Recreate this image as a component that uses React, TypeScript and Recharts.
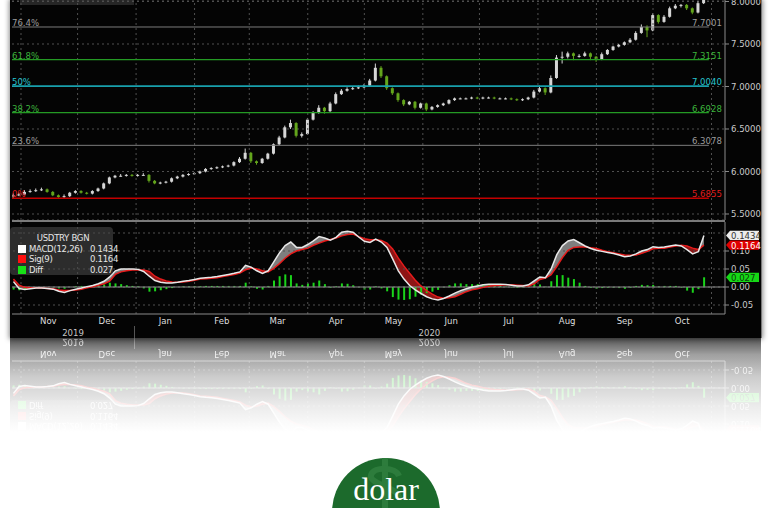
import React from 'react';
import { ComposedChart, Bar, Line, Area, XAxis, YAxis, CartesianGrid, ReferenceLine } from 'recharts';

const FONT = '"Liberation Sans Narrow","DejaVu Sans Condensed","Arial Narrow",Arial,sans-serif';

// ---- data (day 0 = 1 Nov 2019) ----
const days = [-4,-1,2,5,8,11,14,17,20,23,26,29,32,35,38,41,44,47,50,53,56,59,62,65,68,71,74,77,80,83,86,89,92,95,98,101,104,107,110,113,116,119,122,125,128,131,134,137,140,143,146,149,152,155,158,161,164,167,170,173,176,179,182,185,188,191,194,197,200,203,206,209,212,215,218,221,224,227,230,233,236,239,242,245,248,251,254,257,260,263,266,269,272,275,278,281,284,287,290,293,296,299,302,305,308,311,314,317,320,323,326,329,332,335,338,341,344,347,350,353,356,359,362];

const opens = [5.71,5.72,5.73,5.76,5.77,5.78,5.79,5.76,5.72,5.70,
5.71,5.75,5.77,5.75,5.74,5.77,5.80,5.86,5.93,5.95,
5.95,5.96,5.95,5.96,5.96,5.89,5.86,5.87,5.88,5.92,
5.94,5.96,5.97,5.98,6.00,6.03,6.04,6.05,6.06,6.07,
6.11,6.15,6.22,6.12,6.10,6.15,6.21,6.32,6.40,6.52,
6.57,6.42,6.44,6.61,6.69,6.75,6.71,6.80,6.91,6.95,
6.97,6.98,6.99,7.01,7.07,7.22,7.12,6.98,6.92,6.84,
6.79,6.82,6.75,6.80,6.73,6.76,6.78,6.80,6.84,6.86,
6.86,6.86,6.87,6.86,6.87,6.87,6.86,6.86,6.86,6.85,
6.84,6.85,6.87,6.94,6.98,6.93,7.10,7.34,7.35,7.39,
7.36,7.36,7.39,7.35,7.32,7.38,7.43,7.47,7.49,7.52,
7.55,7.63,7.70,7.66,7.84,7.76,7.82,7.92,7.95,7.96,
7.92,7.87,7.98];

const highs = [5.74,5.75,5.78,5.79,5.80,5.81,5.80,5.77,5.73,5.73,
5.76,5.78,5.78,5.76,5.78,5.81,5.87,5.94,5.96,5.97,
5.97,5.97,5.97,5.98,5.97,5.90,5.88,5.89,5.93,5.95,
5.97,5.98,5.99,6.01,6.04,6.05,6.06,6.07,6.08,6.12,
6.17,6.27,6.23,6.13,6.16,6.22,6.33,6.42,6.54,6.61,
6.58,6.46,6.63,6.71,6.78,6.76,6.82,6.93,6.97,6.99,
7.00,7.01,7.03,7.09,7.27,7.24,7.13,6.99,6.93,6.85,
6.83,6.83,6.81,6.81,6.77,6.79,6.81,6.85,6.87,6.87,
6.87,6.88,6.88,6.88,6.88,6.88,6.87,6.87,6.87,6.86,
6.86,6.88,6.96,7.01,6.99,7.13,7.37,7.41,7.41,7.40,
7.38,7.41,7.40,7.36,7.40,7.44,7.48,7.50,7.53,7.57,
7.65,7.73,7.72,7.86,7.85,7.84,7.94,7.97,7.97,7.97,
7.93,8.00,8.10];

const lows = [5.69,5.71,5.72,5.75,5.76,5.77,5.75,5.71,5.69,5.69,
5.70,5.74,5.74,5.73,5.73,5.76,5.79,5.85,5.92,5.94,
5.94,5.94,5.94,5.95,5.87,5.85,5.85,5.86,5.87,5.91,
5.93,5.95,5.96,5.97,5.99,6.02,6.03,6.04,6.05,6.06,
6.10,6.14,6.10,6.08,6.09,6.14,6.20,6.31,6.39,6.50,
6.40,6.40,6.43,6.60,6.68,6.68,6.70,6.79,6.90,6.94,
6.96,6.97,6.98,7.00,7.06,7.10,6.96,6.90,6.82,6.77,
6.78,6.73,6.74,6.71,6.72,6.75,6.77,6.79,6.83,6.85,
6.85,6.85,6.85,6.85,6.86,6.85,6.85,6.85,6.84,6.83,
6.83,6.84,6.86,6.93,6.90,6.92,7.09,7.27,7.33,7.31,
7.34,7.35,7.31,7.29,7.31,7.37,7.42,7.46,7.48,7.51,
7.54,7.62,7.58,7.65,7.74,7.75,7.81,7.91,7.93,7.90,
7.85,7.86,7.97];

const closes = [5.72,5.73,5.76,5.77,5.78,5.79,5.76,5.72,5.70,5.71,
5.75,5.77,5.75,5.74,5.77,5.80,5.86,5.93,5.95,5.95,
5.96,5.95,5.96,5.96,5.89,5.86,5.87,5.88,5.92,5.94,
5.96,5.97,5.98,6.00,6.03,6.04,6.05,6.06,6.07,6.11,
6.15,6.22,6.12,6.10,6.15,6.21,6.32,6.40,6.52,6.57,
6.42,6.44,6.61,6.69,6.75,6.71,6.80,6.91,6.95,6.97,
6.98,6.99,7.01,7.07,7.22,7.12,6.98,6.92,6.84,6.79,
6.82,6.75,6.80,6.73,6.76,6.78,6.80,6.84,6.86,6.86,
6.86,6.87,6.86,6.87,6.87,6.86,6.86,6.86,6.85,6.84,
6.85,6.87,6.94,6.98,6.93,7.10,7.34,7.35,7.39,7.36,
7.36,7.39,7.35,7.32,7.38,7.43,7.47,7.49,7.52,7.55,
7.63,7.70,7.66,7.84,7.76,7.82,7.92,7.95,7.96,7.92,
7.87,7.98,8.06];

const macdVals = [0.015,-0.004,-0.007,-0.005,-0.003,-0.003,-0.004,-0.006,-0.012,-0.015,
-0.010,-0.006,-0.003,0.001,0.004,0.009,0.016,0.028,0.045,0.050,
0.050,0.050,0.049,0.043,0.030,0.018,0.013,0.011,0.011,0.013,
0.016,0.018,0.021,0.024,0.026,0.027,0.029,0.032,0.035,0.038,
0.042,0.060,0.055,0.045,0.038,0.045,0.070,0.095,0.115,0.125,
0.110,0.110,0.118,0.128,0.140,0.136,0.130,0.138,0.152,0.155,
0.152,0.139,0.127,0.124,0.133,0.125,0.110,0.078,0.045,0.022,
0.004,-0.008,-0.018,-0.027,-0.033,-0.036,-0.032,-0.025,-0.017,-0.010,
-0.005,0.000,0.003,0.006,0.008,0.008,0.008,0.007,0.005,0.003,
0.003,0.006,0.017,0.028,0.026,0.050,0.090,0.115,0.128,0.132,
0.123,0.114,0.107,0.102,0.099,0.096,0.093,0.089,0.084,0.086,
0.092,0.100,0.104,0.112,0.110,0.111,0.114,0.117,0.114,0.104,
0.092,0.098,0.1434];

const sigVals = [0.022,0.005,-0.001,-0.002,-0.003,-0.003,-0.004,-0.005,-0.008,-0.010,
-0.010,-0.008,-0.006,-0.002,0.001,0.005,0.009,0.016,0.035,0.042,
0.045,0.047,0.047,0.047,0.043,0.030,0.022,0.017,0.014,0.013,
0.014,0.016,0.019,0.022,0.023,0.024,0.026,0.029,0.032,0.035,
0.039,0.048,0.053,0.050,0.045,0.042,0.052,0.065,0.080,0.092,
0.100,0.104,0.108,0.116,0.122,0.128,0.132,0.136,0.142,0.146,
0.147,0.140,0.134,0.131,0.131,0.129,0.122,0.106,0.080,0.058,
0.038,0.019,0.003,-0.010,-0.020,-0.028,-0.031,-0.030,-0.027,-0.020,
-0.013,-0.008,-0.005,-0.001,0.002,0.004,0.005,0.006,0.006,0.005,
0.004,0.003,0.009,0.021,0.025,0.034,0.057,0.082,0.102,0.110,
0.111,0.111,0.109,0.107,0.102,0.098,0.095,0.092,0.089,0.088,
0.089,0.094,0.099,0.106,0.108,0.108,0.111,0.114,0.116,0.114,
0.108,0.104,0.1164];

const monthStarts = [0,30,61,92,121,152,182,213,243,274,305,335,366];
const monthMids = [14.5,45.5,76.5,106.5,136,167,197.5,228,258.5,289.5,320,350.5];
const monthNames = ['Nov','Dec','Jan','Feb','Mar','Apr','May','Jun','Jul','Aug','Sep','Oct'];
const yearMids = [27.6,216.5];
const yearNames = ['2019','2020'];
const priceTicks = [5.5,6.0,6.5,7.0,7.5,8.0];
const macdGridTicks = [-0.05,0,0.05,0.1,0.15];
const macdLabelTicks = [-0.05,0,0.05,0.1];
const fibPcts = ['0%','23.6%','38.2%','50%','61.8%','76.4%'];
const fibValues = [5.6855,6.3078,6.6928,7.0040,7.3151,7.7001];
const legendTitle = 'USDTRY BGN';
const legendNames = ['MACD(12,26)','Sig(9)','Diff'];

// ---- layout constants ----
const X_DOMAIN: [number, number] = [-4.77, 373.16];
const PRICE_DOMAIN: [number, number] = [5.4294, 8.0176];
const MACD_DOMAIN: [number, number] = [-0.075, 0.1806];
const FIB_END_DAY = 364.6;

const fibStyle = [
  { line: '#c40000', text: '#e01c1c', w: 1.6 },
  { line: '#7c7c7c', text: '#9c9c9c', w: 1 },
  { line: '#249a24', text: '#3cb43c', w: 1.2 },
  { line: '#18a0ad', text: '#26c4d0', w: 1.8 },
  { line: '#249a24', text: '#3cb43c', w: 1.2 },
  { line: '#7c7c7c', text: '#9c9c9c', w: 1 },
];

const priceRows = days.map((d, i) => ({ d, o: opens[i], h: highs[i], l: lows[i], c: closes[i], range: [lows[i], highs[i]] }));
const macdRows = days.map((d, i) => {
  const m = macdVals[i];
  const s = sigVals[i];
  return { d, macd: m, sig: s, diff: m - s, up: [s, Math.max(m, s)], dn: [Math.min(m, s), s] };
});
const lastMacd = macdVals[macdVals.length - 1];
const lastSig = sigVals[sigVals.length - 1];
const lastDiff = lastMacd - lastSig;

const Candle = (props: any) => {
  let { x, y, width, height, payload } = props;
  if (x == null || payload == null) return null;
  if (height < 0) { y += height; height = -height; }
  const { o, h, l, c } = payload;
  const span = h - l || 1;
  const py = (v: number) => y + ((h - v) / span) * height;
  const cx = x + width / 2;
  const top = py(Math.max(o, c));
  const bot = py(Math.min(o, c));
  const color = c < o ? '#63a51c' : '#d6d6d6';
  return (
    <g>
      <line x1={cx} x2={cx} y1={y} y2={y + height} stroke={color} strokeWidth={1} />
      <rect x={cx - 1.5} y={top} width={3} height={Math.max(1, bot - top)} fill={color} />
    </g>
  );
};

const fibLabel = (p: any, i: number) => {
  const vb = p && p.viewBox;
  if (!vb) return null;
  const st = fibStyle[i];
  return (
    <g>
      <text x={vb.x} y={vb.y - 1} fill={st.text} fontSize={9.5} fontFamily={FONT}>{fibPcts[i]}</text>
      <text x={vb.x + vb.width + 13} y={vb.y - 1} textAnchor="end" fill={st.text} fontSize={9.5} fontFamily={FONT}>{fibValues[i].toFixed(4)}</text>
    </g>
  );
};

const valueBox = (p: any, text: string, bg: string, fg: string) => {
  const vb = p && p.viewBox;
  if (!vb) return null;
  const x = vb.x + vb.width;
  const y = vb.y;
  return (
    <g>
      <path d={`M${x + 1},${y} L${x + 5},${y - 4.6} L${x + 34},${y - 4.6} L${x + 34},${y + 4.6} L${x + 5},${y + 4.6} Z`} fill={bg} />
      <text x={x + 6} y={y + 3.4} fill={fg} fontSize={9.5} fontFamily={FONT}>{text}</text>
    </g>
  );
};

const MonthTick = (p: any) => (
  <text x={p.x} y={p.y + 10} textAnchor="middle" fill="#dedede" fontSize={9.5} fontFamily={FONT}>{monthNames[p.index]}</text>
);
const YearTick = (p: any) => (
  <text x={p.x} y={p.y + 10} textAnchor="middle" fill="#c4c4c4" fontSize={9.5} fontFamily={FONT}>{yearNames[p.index]}</text>
);

const axisTick = { fill: '#cacaca', fontSize: 9.5, fontFamily: FONT };

const PriceChart = () => (
  <ComposedChart width={749} height={220} data={priceRows} margin={{ top: 0, right: 0, bottom: 0, left: 0 }}>
    <CartesianGrid vertical={false} stroke="#505050" strokeDasharray="2 3" />
    <XAxis type="number" dataKey="d" domain={X_DOMAIN} allowDataOverflow hide />
    <YAxis orientation="right" width={36} domain={PRICE_DOMAIN} allowDataOverflow ticks={priceTicks} interval={0}
      tickFormatter={(v: number) => v.toFixed(4)} tick={axisTick} axisLine={{ stroke: '#8a8a8a' }}
      tickLine={{ stroke: '#8a8a8a' }} tickSize={4} tickMargin={2} />
    {monthStarts.map((d) => (
      <ReferenceLine key={'m' + d} x={d} stroke="#505050" strokeDasharray="2 3" />
    ))}
    {fibValues.map((v, i) => (
      <ReferenceLine key={'f' + i} segment={[{ x: X_DOMAIN[0], y: v }, { x: FIB_END_DAY, y: v }]}
        stroke={fibStyle[i].line} strokeWidth={fibStyle[i].w} label={(p: any) => fibLabel(p, i)} />
    ))}
    <Bar dataKey="range" barSize={3} isAnimationActive={false} shape={(p: any) => <Candle {...p} />} />
  </ComposedChart>
);

const MacdChart = () => (
  <ComposedChart width={749} height={116} data={macdRows} margin={{ top: 0, right: 0, bottom: 0, left: 0 }}>
    <XAxis type="number" dataKey="d" domain={X_DOMAIN} allowDataOverflow ticks={monthMids} interval={0} height={12}
      tickSize={0} tickMargin={0} tickLine={false} axisLine={{ stroke: '#8a8a8a' }} tick={MonthTick} />
    <XAxis xAxisId="yr" type="number" dataKey="d" domain={X_DOMAIN} allowDataOverflow ticks={yearMids} interval={0} height={12}
      tickSize={0} tickMargin={0} tickLine={false} axisLine={false} tick={YearTick} />
    <YAxis orientation="right" width={36} domain={MACD_DOMAIN} allowDataOverflow ticks={macdLabelTicks} interval={0}
      tickFormatter={(v: number) => v.toFixed(2)} tick={axisTick} axisLine={{ stroke: '#8a8a8a' }}
      tickLine={{ stroke: '#8a8a8a' }} tickSize={4} tickMargin={2} />
    {macdGridTicks.map((v) => (
      <ReferenceLine key={'h' + v} y={v} stroke="#505050" strokeDasharray="2 3" />
    ))}
    {monthStarts.map((d) => (
      <ReferenceLine key={'m' + d} x={d} stroke="#505050" strokeDasharray="2 3" />
    ))}
    <ReferenceLine y={0} stroke="#8c8c8c" />
    <Bar dataKey="diff" fill="#1ad41a" barSize={2} isAnimationActive={false} />
    <Area dataKey="up" type="linear" stroke="none" fill="#7e7e7e" fillOpacity={1} isAnimationActive={false} />
    <Area dataKey="dn" type="linear" stroke="none" fill="#8e1515" fillOpacity={1} isAnimationActive={false} />
    <Line dataKey="sig" type="linear" stroke="#e51b1b" strokeWidth={1.5} dot={false} isAnimationActive={false} />
    <Line dataKey="macd" type="linear" stroke="#e8e8e8" strokeWidth={1.5} dot={false} isAnimationActive={false} />
  </ComposedChart>
);

// overlay drawn above the axis labels: the last-value boxes
const MacdBoxes = () => (
  <ComposedChart width={749} height={116} data={macdRows} margin={{ top: 0, right: 36, bottom: 24, left: 0 }}>
    <XAxis type="number" dataKey="d" domain={X_DOMAIN} allowDataOverflow hide />
    <YAxis domain={MACD_DOMAIN} allowDataOverflow hide />
    <ReferenceLine y={lastMacd} stroke="none" label={(p: any) => valueBox(p, lastMacd.toFixed(4), '#ececec', '#333')} />
    <ReferenceLine y={lastSig} stroke="none" label={(p: any) => valueBox(p, lastSig.toFixed(4), '#e00000', '#fff')} />
    <ReferenceLine y={lastDiff} stroke="none" label={(p: any) => valueBox(p, lastDiff.toFixed(3), '#16d816', '#0c3a0c')} />
  </ComposedChart>
);

const Legend = () => {
  const vals = [lastMacd.toFixed(4), lastSig.toFixed(4), lastDiff.toFixed(3)];
  const sw = ['#ffffff', '#ff1010', '#18e018'];
  return (
    <div style={{ position: 'absolute', left: 10, top: 5, width: 103, height: 48, background: 'rgba(72,72,72,0.6)', borderRadius: 4, fontFamily: FONT, fontSize: 9.5, color: '#e6e6e6', lineHeight: '10px', letterSpacing: '-0.3px', whiteSpace: 'nowrap' }}>
      <div style={{ position: 'absolute', left: 0, width: 106, top: 6, textAlign: 'center' }}>{legendTitle}</div>
      {legendNames.map((n, i) => (
        <div key={n} style={{ position: 'absolute', left: 0, top: 17 + i * 10.3, width: 103, height: 10 }}>
          <div style={{ position: 'absolute', left: 8, top: 1, width: 8, height: 8, background: sw[i] }} />
          <div style={{ position: 'absolute', left: 19, top: 0 }}>{n}</div>
          <div style={{ position: 'absolute', left: 80, top: 0 }}>{vals[i]}</div>
        </div>
      ))}
    </div>
  );
};

const BottomBlock = () => (
  <div style={{ position: 'absolute', left: 0, top: 0, width: 770, height: 116 }}>
    <div style={{ position: 'absolute', left: 10, top: 0, width: 751, height: 116, background: '#040404' }} />
    <div style={{ position: 'absolute', left: 12, top: 0 }}>
      <MacdChart />
    </div>
    <div style={{ position: 'absolute', left: 12, top: 0 }}>
      <MacdBoxes />
    </div>
    <div style={{ position: 'absolute', left: 134, top: 104, width: 1, height: 12, background: '#555' }} />
    <Legend />
  </div>
);

export default function App() {
  return (
    <div style={{ position: 'absolute', left: 0, top: 0, width: 770, height: 508, background: '#ffffff', overflow: 'hidden' }}>
      {/* reflection */}
      <div style={{ position: 'absolute', left: 0, top: 337, width: 770, height: 116, transform: 'scaleY(-1)', filter: 'blur(0.6px)' }}>
        <BottomBlock />
      </div>
      <div style={{ position: 'absolute', left: 0, top: 337, width: 770, height: 125, background: 'linear-gradient(to bottom, rgba(255,255,255,0.3) 0%, rgba(255,255,255,0.62) 14%, rgba(255,255,255,0.8) 32%, rgba(255,255,255,0.92) 55%, #ffffff 76%)' }} />

      {/* main panel */}
      <div style={{ position: 'absolute', left: 10, top: 0, width: 751, height: 338, background: '#040404', boxShadow: '0 0 5px 1px rgba(0,0,0,0.45)', borderRight: '1px solid #777' }} />
      <div style={{ position: 'absolute', left: 20, top: 0, width: 114, height: 5, background: '#262626' }} />
      <div style={{ position: 'absolute', left: 12, top: 0 }}>
        <PriceChart />
      </div>
      <div style={{ position: 'absolute', left: 0, top: 222, width: 770, height: 116 }}>
        <BottomBlock />
      </div>
      <div style={{ position: 'absolute', left: 12, top: 220, width: 713, height: 2, background: '#7a7a7a' }} />

      {/* logo */}
      <svg width={770} height={68} style={{ position: 'absolute', left: 0, top: 440 }}>
        <defs>
          <clipPath id="logoClip"><circle cx={386} cy={72} r={54} /></clipPath>
        </defs>
        <circle cx={386} cy={72} r={54} fill="#1c6a2c" />
        <g clipPath="url(#logoClip)" fill="none" stroke="#2d7c3c" strokeWidth={6}>
          <line x1={385} y1={16} x2={385} y2={68} />
          <path d="M 399 36 C 396 27, 374 26, 371 35 C 368 44, 400 48, 399 58" />
        </g>
        <text x={386} y={60} textAnchor="middle" fontSize={32} fontFamily='"Liberation Serif",serif' fill="#ffffff">dolar</text>
      </svg>
    </div>
  );
}
